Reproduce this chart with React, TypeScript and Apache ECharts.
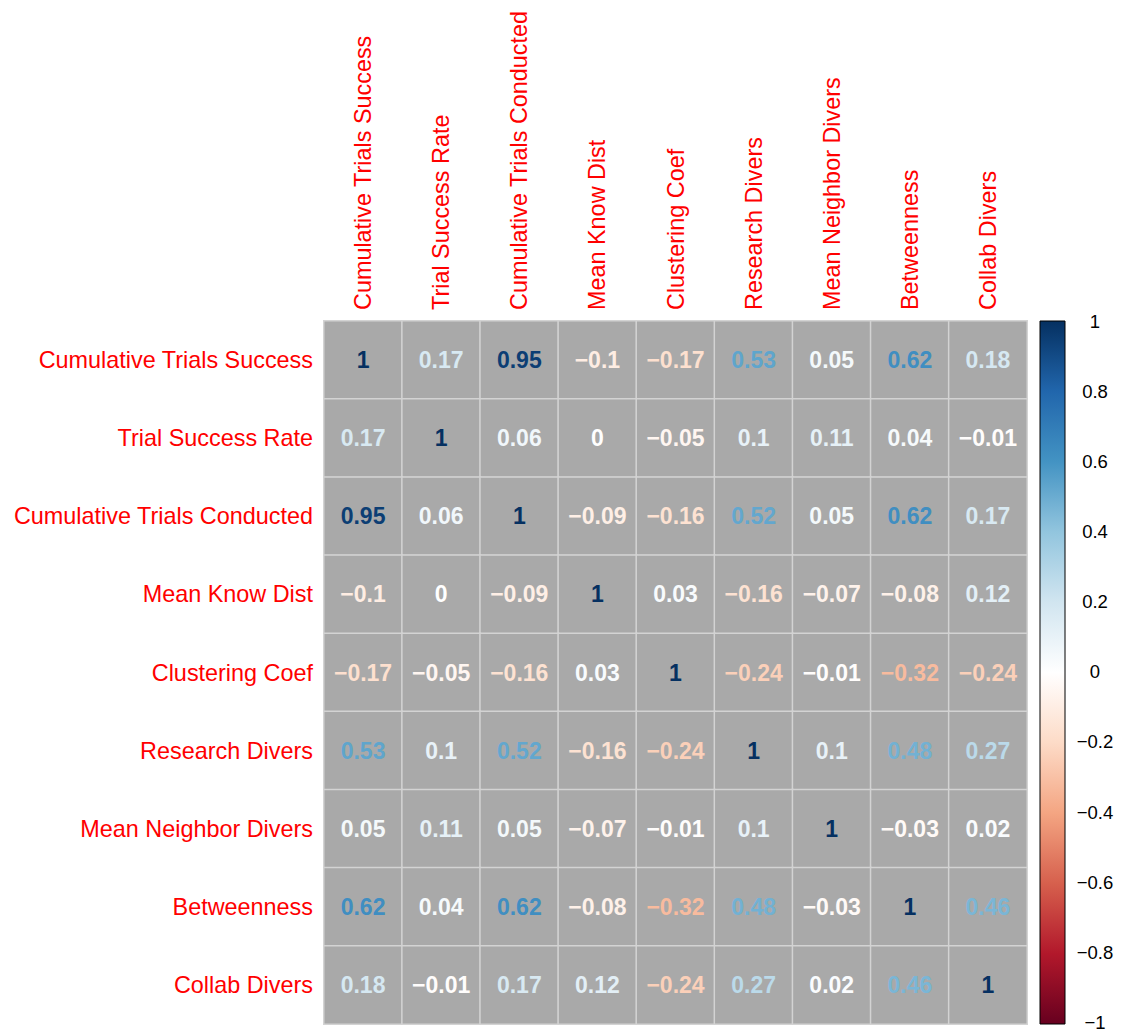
import React, { useEffect, useRef } from "react";
import * as echarts from "echarts";

const variables = [
  "Cumulative Trials Success",
  "Trial Success Rate",
  "Cumulative Trials Conducted",
  "Mean Know Dist",
  "Clustering Coef",
  "Research Divers",
  "Mean Neighbor Divers",
  "Betweenness",
  "Collab Divers",
];

const rowCTS = [1, 0.17, 0.95, -0.1, -0.17, 0.53, 0.05, 0.62, 0.18];
const rowTSR = [0.17, 1, 0.06, 0, -0.05, 0.1, 0.11, 0.04, -0.01];
const rowCTC = [0.95, 0.06, 1, -0.09, -0.16, 0.52, 0.05, 0.62, 0.17];
const rowMKD = [-0.1, 0, -0.09, 1, 0.03, -0.16, -0.07, -0.08, 0.12];
const rowCC = [-0.17, -0.05, -0.16, 0.03, 1, -0.24, -0.01, -0.32, -0.24];
const rowRD = [0.53, 0.1, 0.52, -0.16, -0.24, 1, 0.1, 0.48, 0.27];
const rowMND = [0.05, 0.11, 0.05, -0.07, -0.01, 0.1, 1, -0.03, 0.02];
const rowBet = [0.62, 0.04, 0.62, -0.08, -0.32, 0.48, -0.03, 1, 0.46];
const rowCD = [0.18, -0.01, 0.17, 0.12, -0.24, 0.27, 0.02, 0.46, 1];

const matrix = [rowCTS, rowTSR, rowCTC, rowMKD, rowCC, rowRD, rowMND, rowBet, rowCD];

const legendTicks = [-1, -0.8, -0.6, -0.4, -0.2, 0, 0.2, 0.4, 0.6, 0.8, 1];

// RdBu palette (corrplot COL2), from -1 to 1
const palette = [
  "#67001F", "#B2182B", "#D6604D", "#F4A582", "#FDDBC7", "#FFFFFF",
  "#D1E5F0", "#92C5DE", "#4393C3", "#2166AC", "#053061",
];

function hexToRgb(h: string) {
  return [parseInt(h.slice(1, 3), 16), parseInt(h.slice(3, 5), 16), parseInt(h.slice(5, 7), 16)];
}

function colorFor(v: number) {
  const t = ((v + 1) / 2) * (palette.length - 1);
  const i = Math.min(Math.floor(t), palette.length - 2);
  const f = t - i;
  const a = hexToRgb(palette[i]);
  const b = hexToRgb(palette[i + 1]);
  const c = a.map((x, k) => Math.round(x + (b[k] - x) * f));
  return `rgb(${c[0]},${c[1]},${c[2]})`;
}

function fmt(v: number) {
  return v < 0 ? "\u2212" + String(Math.abs(v)) : String(v);
}

const FONT = "'Liberation Sans', Arial, sans-serif";

export default function App() {
  const ref = useRef<HTMLDivElement>(null);
  useEffect(() => {
    document.body.style.margin = "0";
    const chart = echarts.init(ref.current!, null, { renderer: "svg" });
    const data: any[] = [];
    matrix.forEach((row, r) => {
      row.forEach((v, c) => {
        data.push({
          value: [c, r, v],
          label: { color: colorFor(v) },
        });
      });
    });
    const gridL = 324, gridT = 321, size = 703;
    const cbL = 1040, cbW = 25;
    chart.setOption({
      animation: false,
      backgroundColor: "#ffffff",
      textStyle: { fontFamily: FONT },
      grid: [
        { left: gridL, top: gridT, width: size, height: size },
        { left: cbL, top: gridT, width: cbW, height: size },
      ],
      visualMap: {
        show: false,
        type: "continuous",
        min: legendTicks[0],
        max: legendTicks[legendTicks.length - 1],
        dimension: 2,
        seriesIndex: 0,
        inRange: { color: ["#a9a9a9", "#a9a9a9"] },
      },
      xAxis: [
        {
          type: "category",
          gridIndex: 0,
          data: variables,
          position: "top",
          axisLine: { show: false },
          axisTick: { show: false },
          splitLine: { show: false },
          axisLabel: {
            interval: 0,
            rotate: -90,
            color: "#ff0000",
            fontSize: 23.4,
            fontFamily: FONT,
            margin: 11,
          },
        },
        { type: "value", gridIndex: 1, show: false, min: 0, max: 1 },
      ],
      yAxis: [
        {
          type: "category",
          gridIndex: 0,
          data: variables,
          inverse: true,
          axisLine: { show: false },
          axisTick: { show: false },
          splitLine: { show: false },
          axisLabel: {
            interval: 0,
            color: "#ff0000",
            fontSize: 23.4,
            fontFamily: FONT,
            margin: 11,
          },
        },
        {
          type: "value",
          gridIndex: 1,
          position: "right",
          min: -1,
          max: 1,
          interval: 0.2,
          splitLine: { show: false },
          axisLine: { show: false },
          axisTick: { show: true, length: 6, lineStyle: { color: "#000", width: 1 } },
          axisLabel: {
            color: "#000",
            fontSize: 18.5,
            fontFamily: FONT,
            align: "center",
            margin: 30,
            formatter: (v: number) => fmt(Math.round(v * 10) / 10),
          },
        },
      ],
      graphic: [
        {
          type: "rect",
          shape: { x: cbL, y: gridT, width: cbW, height: size },
          style: {
            fill: new echarts.graphic.LinearGradient(
              0, 0, 0, 1,
              palette.slice().reverse().map((c, i) => ({ offset: i / (palette.length - 1), color: c }))
            ),
            stroke: "#000",
            lineWidth: 1,
          },
          z: 10,
        },
      ],
      series: [
        {
          type: "heatmap",
          xAxisIndex: 0,
          yAxisIndex: 0,
          data,
          itemStyle: { color: "#a9a9a9", borderColor: "#d3d3d3", borderWidth: 1.5 },
          label: {
            show: true,
            fontSize: 23,
            fontWeight: "bold",
            fontFamily: FONT,
            formatter: (p: any) => fmt(p.value[2]),
          },
          emphasis: { disabled: true },
        },
      ],
    });
    return () => chart.dispose();
  }, []);
  return <div ref={ref} style={{ width: 1122, height: 1032 }} />;
}
